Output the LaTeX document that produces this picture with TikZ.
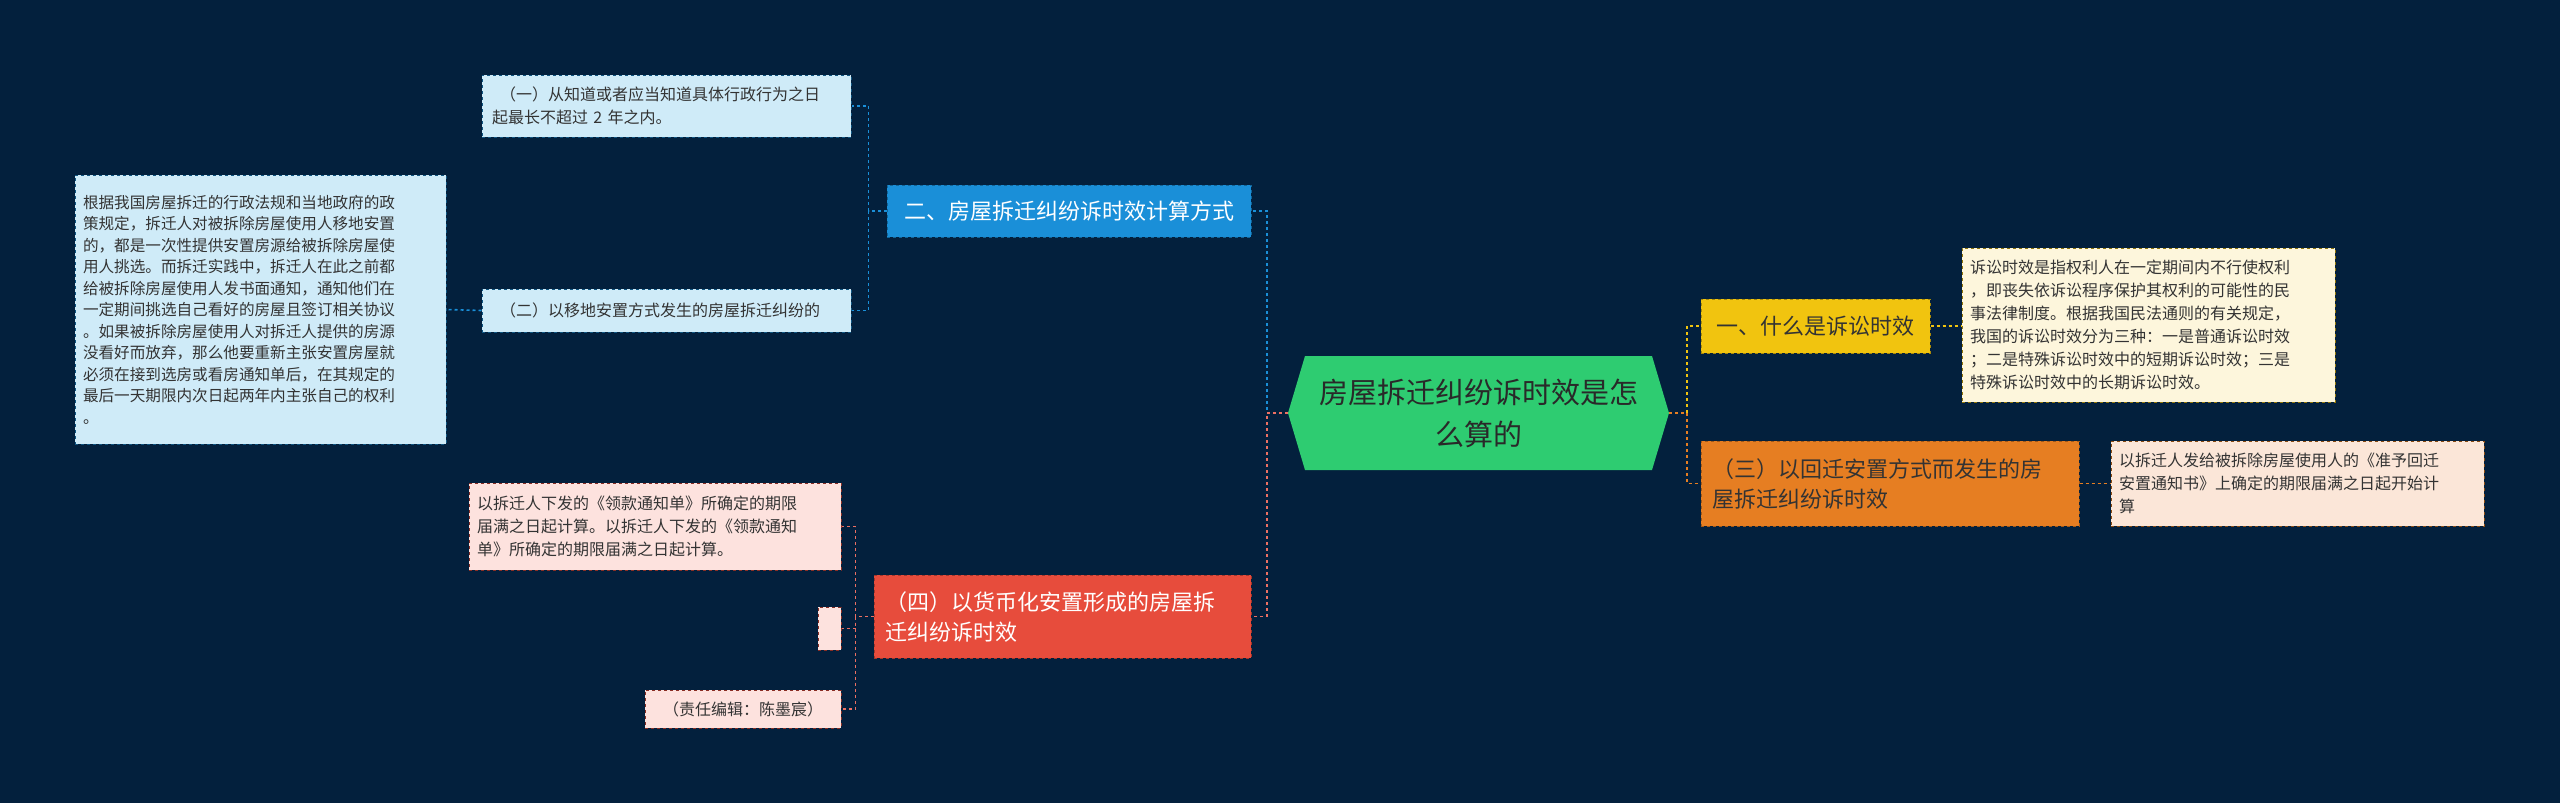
\documentclass[tikz,border=0pt]{standalone}
\usepackage{fontspec}
\setmainfont{Noto Sans CJK SC}
\definecolor{bg}{HTML}{03203D}
\definecolor{cgreen}{HTML}{2ECC71}
\definecolor{cblue}{HTML}{1A8FD8}
\definecolor{lblue}{HTML}{CFEBF8}
\definecolor{cred}{HTML}{E74C3C}
\definecolor{lred}{HTML}{FDE2DE}
\definecolor{cyel}{HTML}{F1C40F}
\definecolor{lyel}{HTML}{FDF6DC}
\definecolor{cora}{HTML}{E67E22}
\definecolor{lora}{HTML}{FBE6D8}
\definecolor{txt}{HTML}{333333}
\tikzset{
 bx/.style={rectangle, dashed, line width=1pt, inner sep=8pt, align=left, anchor=center},
 leaf/.style={bx, text=txt, font=\fontsize{16}{23}\selectfont},
 mid/.style={bx, font=\fontsize{22}{30}\selectfont},
 con/.style={dashed, line width=1.6pt},
}
\begin{document}
\begin{tikzpicture}[x=1pt,y=-1pt]
\fill[bg] (0,0) rectangle (2560,803);
\useasboundingbox (0,0) rectangle (2560,803);
% center
\fill[cgreen] (1288,413) -- (1305,356) -- (1652,356) -- (1669,413) -- (1652,470) -- (1305,470) -- cycle;
\node[align=center, font=\fontsize{29}{42}\selectfont, text=txt!80!black, minimum width=381pt, minimum height=114pt, inner sep=0pt] (c) at (1478.5,413) {房屋拆迁纠纷诉时效是怎\\么算的};
% left blue
\node[mid, fill=cblue, draw=cblue!70!black, text=white, minimum width=364pt, minimum height=52pt] (b) at (1069,211) {二、房屋拆迁纠纷诉时效计算方式};
\node[leaf, fill=lblue, draw=cblue!60!black, minimum width=369pt, minimum height=62pt, text width=349pt] (b1) at (666.5,106) {\hspace*{0.5em}（一）从知道或者应当知道具体行政行为之日\\起最长不超过 2 年之内。};
\node[leaf, fill=lblue, draw=cblue!60!black, minimum width=369pt, minimum height=43pt, text width=349pt] (b2) at (666.5,310.5) {\hspace*{0.5em}（二）以移地安置方式发生的房屋拆迁纠纷的};
\node[leaf, fill=lblue, draw=cblue!60!black, minimum width=371pt, minimum height=269pt, text width=355pt, inner sep=8pt, font=\fontsize{15.6}{21.5}\selectfont] (bb) at (260.5,309.5) {根据我国房屋拆迁的行政法规和当地政府的政\\策规定，拆迁人对被拆除房屋使用人移地安置\\的，都是一次性提供安置房源给被拆除房屋使\\用人挑选。而拆迁实践中，拆迁人在此之前都\\给被拆除房屋使用人发书面通知，通知他们在\\一定期间挑选自己看好的房屋且签订相关协议\\。如果被拆除房屋使用人对拆迁人提供的房源\\没看好而放弃，那么他要重新主张安置房屋就\\必须在接到选房或看房通知单后，在其规定的\\最后一天期限内次日起两年内主张自己的权利\\。};
% left red
\node[mid, fill=cred, draw=cred!70!black, text=white, minimum width=377pt, minimum height=83pt, text width=355pt] (r) at (1062.5,616.5) {（四）以货币化安置形成的房屋拆\\迁纠纷诉时效};
\node[leaf, fill=lred, draw=cred!60!black, minimum width=372pt, minimum height=87pt, text width=356pt] (r1) at (655,526.5) {以拆迁人下发的《领款通知单》所确定的期限\\届满之日起计算。以拆迁人下发的《领款通知\\单》所确定的期限届满之日起计算。};
\node[bx, fill=lred, draw=cred!60!black, minimum width=23pt, minimum height=43pt, inner sep=0pt] (r2) at (829.5,628.5) {};
\node[leaf, fill=lred, draw=cred!60!black, minimum width=196pt, minimum height=38pt, align=center] (r3) at (743,709) {（责任编辑：陈墨宸）};
% right
\node[mid, fill=cyel, draw=cyel!70!black, text=txt, minimum width=229pt, minimum height=54pt] (y) at (1815.5,326) {一、什么是诉讼时效};
\node[leaf, fill=lyel, draw=cyel!60!black, minimum width=373pt, minimum height=154pt, text width=357pt] (y1) at (2148.5,325) {诉讼时效是指权利人在一定期间内不行使权利\\，即丧失依诉讼程序保护其权利的可能性的民\\事法律制度。根据我国民法通则的有关规定，\\我国的诉讼时效分为三种：一是普通诉讼时效\\；二是特殊诉讼时效中的短期诉讼时效；三是\\特殊诉讼时效中的长期诉讼时效。};
\node[mid, fill=cora, draw=cora!70!black, text=txt, minimum width=378pt, minimum height=85pt, text width=356pt] (o) at (1890,483.5) {（三）以回迁安置方式而发生的房\\屋拆迁纠纷诉时效};
\node[leaf, fill=lora, draw=cora!60!black, minimum width=373pt, minimum height=85pt, text width=357pt] (o1) at (2297.5,483.5) {以拆迁人发给被拆除房屋使用人的《准予回迁\\安置通知书》上确定的期限届满之日起开始计\\算};
% connectors
\draw[con, cblue] (c.west) -- +(-21,0) |- (b.east);
\draw[con, cred!80] (c.west) -- +(-21,0) |- (r.east);
\draw[con, cblue] (b.west) -- +(-18,0) |- (b1.east);
\draw[con, cblue] (b.west) -- +(-18,0) |- (b2.east);
\draw[con, cblue] (b2.west) -- (bb.east);
\draw[con, cred!80] (r.west) -- +(-18,0) |- (r1.east);
\draw[con, cred!80] (r.west) -- +(-18,0) |- (r2.east);
\draw[con, cred!80] (r.west) -- +(-18,0) |- (r3.east);
\draw[con, cyel] (c.east) -- +(18,0) |- (y.west);
\draw[con, cora] (c.east) -- +(18,0) |- (o.west);
\draw[con, cyel] (y.east) -- (y1.west |- y.east);
\draw[con, cora] (o.east) -- (o1.west);
\end{tikzpicture}
\end{document}
